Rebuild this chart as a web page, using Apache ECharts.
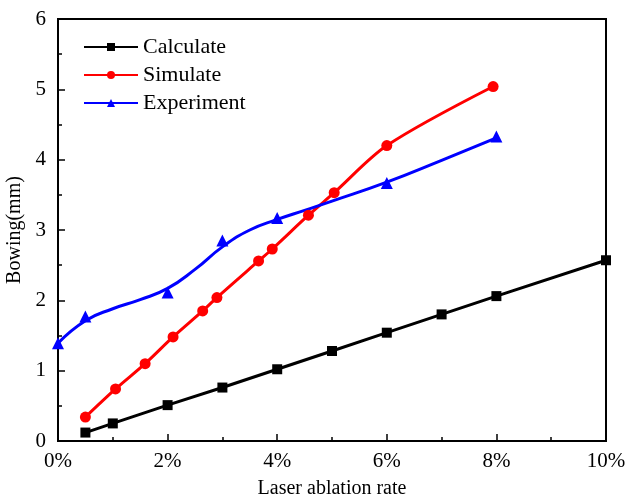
<!DOCTYPE html>
<html>
<head>
<meta charset="utf-8">
<script src="https://cdn.jsdelivr.net/npm/echarts@6/dist/echarts.min.js"></script>
<style>
  html, body { margin: 0; padding: 0; background: #fff; }
  #chart { width: 629px; height: 501px; }
</style>
</head>
<body>
<div id="chart"></div>
<script>
// 数据：激光烧蚀率 (%) 与 弯曲量 (mm)
const calcX = [0.5, 1, 2, 3, 4, 5, 6, 7, 8, 10]
const calcY = [0.12, 0.25, 0.51, 0.76, 1.02, 1.28, 1.54, 1.80, 2.06, 2.57]

const simX = [0.5, 1.05, 1.59, 2.10, 2.64, 2.90, 3.66, 3.91, 4.57, 5.04, 6.0, 7.94]
const simY = [0.34, 0.74, 1.10, 1.48, 1.85, 2.04, 2.56, 2.73, 3.21, 3.53, 4.20, 5.04]

// 实验测量点
const expX = [0, 0.5, 2, 3, 4, 6, 8]
const expY = [1.39, 1.77, 2.11, 2.85, 3.17, 3.67, 4.33]

const expFitX = [0, 0.5, 1, 1.5, 2, 2.5, 3, 3.5, 4, 4.5, 5, 6, 7, 8]
const expFitY = [1.39, 1.71, 1.88, 2.01, 2.17, 2.44, 2.76, 3.00, 3.15, 3.28, 3.41, 3.68, 3.99, 4.31]

const pair = (xs, ys) => xs.map((x, i) => [x, ys[i]])

const font = '"Liberation Serif", "Times New Roman", serif'
const chart = echarts.init(document.getElementById('chart'), null, { renderer: 'canvas' })

const axisCommon = {
  axisLine: { show: true, onZero: false, lineStyle: { color: '#000', width: 2 } },
  axisTick: { show: true, inside: true, length: 7, lineStyle: { color: '#000', width: 1.5 } },
  minorTick: { show: true, splitNumber: 2, length: 4, lineStyle: { color: '#000', width: 1.5 } },
  splitLine: { show: false },
  axisLabel: { color: '#000', fontFamily: font, fontSize: 21 },
  nameTextStyle: { color: '#000', fontFamily: font, fontSize: 20 }
}

const option = {
  animation: false,
  backgroundColor: '#fff',
  grid: {
    left: 58, right: 23, top: 19, bottom: 60,
    outerBoundsMode: 'none',
    show: true, borderColor: '#000', borderWidth: 2, backgroundColor: 'transparent'
  },
  legend: {
    orient: 'vertical',
    left: 78, top: 31,
    itemWidth: 54, itemHeight: 10, itemGap: 6,
    textStyle: { color: '#000', fontFamily: font, fontSize: 22, padding: [0, 0, 0, 0] },
    data: ['Calculate', 'Simulate', 'Experiment']
  },
  xAxis: {
    ...axisCommon,
    type: 'value', min: 0, max: 10, interval: 2,
    name: 'Laser ablation rate', nameLocation: 'middle', nameGap: 38,
    axisLabel: { ...axisCommon.axisLabel, margin: 10, formatter: '{value}%' }
  },
  yAxis: {
    ...axisCommon,
    type: 'value', min: 0, max: 6, interval: 1,
    name: 'Bowing(mm)', nameLocation: 'middle', nameGap: 31,
    axisLabel: { ...axisCommon.axisLabel, margin: 12 }
  },
  series: [
    {
      name: 'Calculate', type: 'line', data: pair(calcX, calcY),
      symbol: 'rect', symbolSize: 10,
      lineStyle: { color: '#000', width: 3 }, itemStyle: { color: '#000' }
    },
    {
      name: 'Simulate', type: 'line', data: pair(simX, simY), smooth: 0.3,
      symbol: 'circle', symbolSize: 11,
      lineStyle: { color: '#ff0000', width: 3 }, itemStyle: { color: '#ff0000' }
    },
    {
      name: 'Experiment', type: 'line', data: pair(expFitX, expFitY), smooth: 0.5,
      symbol: 'triangle', symbolSize: 12, showSymbol: false,
      lineStyle: { color: '#0000ff', width: 3 }, itemStyle: { color: '#0000ff' }
    },
    {
      name: 'Experiment', type: 'scatter', data: pair(expX, expY),
      symbol: 'triangle', symbolSize: 12,
      itemStyle: { color: '#0000ff', opacity: 1 }
    }
  ]
}

chart.setOption(option)
</script>
</body>
</html>
